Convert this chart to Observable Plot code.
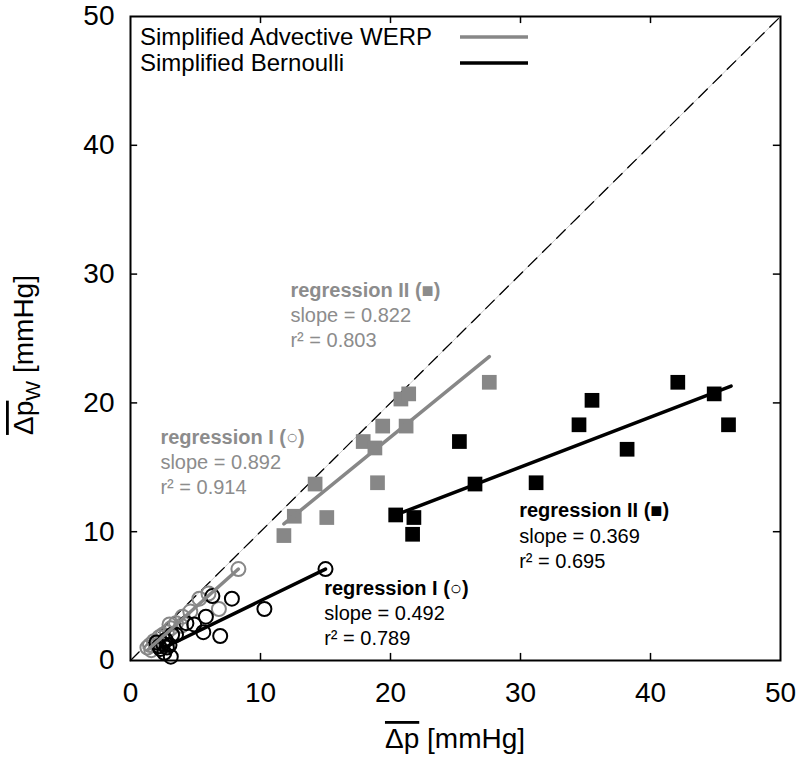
<!DOCTYPE html>
<html><head><meta charset="utf-8">
<script src="https://cdn.jsdelivr.net/npm/d3@7"></script>
<script src="https://cdn.jsdelivr.net/npm/@observablehq/plot@0.6"></script>
<style>
body{margin:0;background:#fff;}
#chart svg{display:block;overflow:visible;}
</style>
</head><body><div id="chart"></div>
<script>
// ---- data ----
const tickValues = [0, 10, 20, 30, 40, 50];
const innerTicks = [10, 20, 30, 40];
const identityLine = [0, 50];

// Simplified Advective WERP (grey), regression I circles
const werpCircleX = [8.3, 6.0, 5.3, 6.8, 4.0, 4.6, 3.1, 3.5, 2.5, 2.2, 1.8, 1.3, 1.6, 2.0, 2.8, 1.5, 3.0, 3.9];
const werpCircleY = [7.1, 5.2, 4.8, 4.0, 3.4, 3.8, 2.5, 2.9, 2.0, 1.8, 1.5, 1.0, 0.8, 1.2, 2.2, 1.2, 2.8, 2.7];
// Simplified Bernoulli (black), regression I circles
const bernCircleX = [15.0, 10.3, 7.8, 6.3, 5.8, 4.9, 6.9, 5.6, 4.3, 3.5, 3.1, 2.8, 2.5, 2.3, 2.7, 3.0, 2.2, 2.6, 3.2, 2.0];
const bernCircleY = [7.1, 4.0, 4.8, 5.0, 3.4, 2.8, 1.9, 2.2, 2.9, 2.0, 0.3, 1.0, 1.3, 0.9, 1.6, 1.2, 1.1, 0.6, 2.0, 1.4];
// regression II squares
const werpSquareX = [11.8, 12.6, 15.1, 14.2, 19.0, 17.9, 18.8, 19.4, 21.2, 20.8, 21.4, 27.6];
const werpSquareY = [9.7, 11.2, 11.1, 13.7, 13.8, 17.0, 16.5, 18.2, 18.2, 20.3, 20.7, 21.6];
const bernSquareX = [20.4, 21.8, 21.7, 25.3, 26.5, 31.2, 34.5, 35.5, 38.2, 42.1, 44.9, 46.0];
const bernSquareY = [11.3, 11.1, 9.8, 17.0, 13.7, 13.8, 18.3, 20.2, 16.4, 21.6, 20.7, 18.3];

// regression line end points
const werpRegIX = [1.3, 8.3],  werpRegIY = [0.8, 7.1];
const bernRegIX = [2.5, 15.0], bernRegIY = [0.95, 7.1];
const werpRegIIX = [11.8, 27.6], werpRegIIY = [10.6, 23.6];
const bernRegIIX = [20.4, 46.2], bernRegIIY = [11.3, 21.3];

const seriesNames = ["Simplified Advective WERP", "Simplified Bernoulli"];

// annotation texts
const annWerpII = ["regression II (■)", "slope = 0.822", "r² = 0.803"];
const annWerpI  = ["regression I (○)", "slope = 0.892", "r² = 0.914"];
const annBernII = ["regression II (■)", "slope = 0.369", "r² = 0.695"];
const annBernI  = ["regression I (○)", "slope = 0.492", "r² = 0.789"];

// ---- build ----
const GREY = "#878787";
const GREY_TEXT = "#8c8c8c";
const FONT = "'Liberation Sans', Arial, sans-serif";
const zip = (xs, ys) => xs.map((x, i) => ({x, y: ys[i]}));

function annMarks(lines, x0, y0, color) {
  const rows = lines.map((t, i) => ({t, i, x: x0, y: y0 - i * 1.95}));
  return [
    Plot.text(rows.filter(d => d.i === 0), {x: "x", y: "y", text: "t", fill: color, fontSize: 20, fontWeight: "bold", textAnchor: "start"}),
    Plot.text(rows.filter(d => d.i > 0), {x: "x", y: "y", text: "t", fill: color, fontSize: 20, textAnchor: "start"})
  ];
}

const chart = Plot.plot({
  width: 800, height: 761,
  marginLeft: 130, marginRight: 20, marginTop: 16, marginBottom: 101,
  style: {fontFamily: FONT, background: "#fff", color: "#000", overflow: "visible"},
  x: {domain: [0, 50]},
  y: {domain: [0, 50]},
  marks: [
    // identity line
    Plot.line(zip(identityLine, identityLine), {x: "x", y: "y", stroke: "#c8c8c8", strokeWidth: 1}),
    Plot.line(zip(identityLine, identityLine), {x: "x", y: "y", stroke: "#000", strokeWidth: 1.3, strokeDasharray: "12,8"}),
    // points
    Plot.dot(zip(werpCircleX, werpCircleY), {x: "x", y: "y", r: 7, stroke: GREY, strokeWidth: 2, fill: "none"}),
    Plot.dot(zip(bernCircleX, bernCircleY), {x: "x", y: "y", r: 7, stroke: "#000", strokeWidth: 2, fill: "none"}),
    Plot.dot(zip(werpSquareX, werpSquareY), {x: "x", y: "y", symbol: "square", r: 8.3, fill: GREY, stroke: "none"}),
    Plot.dot(zip(bernSquareX, bernSquareY), {x: "x", y: "y", symbol: "square", r: 8.3, fill: "#000", stroke: "none"}),
    // regression lines
    Plot.line(zip(werpRegIX, werpRegIY), {x: "x", y: "y", stroke: GREY, strokeWidth: 3.5}),
    Plot.line(zip(bernRegIX, bernRegIY), {x: "x", y: "y", stroke: "#000", strokeWidth: 3.5}),
    Plot.line(zip(werpRegIIX, werpRegIIY), {x: "x", y: "y", stroke: GREY, strokeWidth: 3.5}),
    Plot.line(zip(bernRegIIX, bernRegIIY), {x: "x", y: "y", stroke: "#000", strokeWidth: 3.5}),
    // annotations
    ...annMarks(annWerpII, 12.3, 28.7, GREY_TEXT),
    ...annMarks(annWerpI, 2.3, 17.3, GREY_TEXT),
    ...annMarks(annBernII, 29.9, 11.6, "#000"),
    ...annMarks(annBernI, 14.9, 5.6, "#000"),
    // inward ticks
    Plot.ruleX(innerTicks, {x: d => d, y1: 0, y2: 0.55, stroke: "#000", strokeWidth: 1.5}),
    Plot.ruleX(innerTicks, {x: d => d, y1: 50, y2: 49.45, stroke: "#000", strokeWidth: 1.5}),
    Plot.ruleY(innerTicks, {y: d => d, x1: 0, x2: 0.55, stroke: "#000", strokeWidth: 1.5}),
    Plot.ruleY(innerTicks, {y: d => d, x1: 50, x2: 49.45, stroke: "#000", strokeWidth: 1.5}),
    // axes
    Plot.axisX(tickValues, {tickSize: 0, tickPadding: 22, fontSize: 28, label: null}),
    Plot.axisY(tickValues, {tickSize: 0, tickPadding: 16, fontSize: 28, label: null}),
    Plot.frame({stroke: "#000", strokeWidth: 2})
  ]
});

document.getElementById("chart").appendChild(chart);

// legend and axis titles
const svg = d3.select(chart);
const leg = svg.append("g").attr("font-family", FONT).attr("font-size", 24).attr("text-anchor", "start");
const legColors = [GREY, "#000"];
seriesNames.forEach((name, i) => {
  const cy = 37 + i * 26;
  leg.append("text").attr("x", 140).attr("y", cy).attr("dy", "0.35em").attr("text-anchor", "start").attr("fill", "#000").text(name);
  leg.append("line").attr("x1", 460).attr("x2", 528).attr("y1", cy).attr("y2", cy)
     .attr("stroke", legColors[i]).attr("stroke-width", 3.5);
});

const xt = svg.append("text")
  .attr("x", 455).attr("y", 748).attr("text-anchor", "middle")
  .attr("font-family", FONT).attr("font-size", 28).attr("fill", "#000");
xt.append("tspan").style("text-decoration", "overline").text("Δp");
xt.append("tspan").text(" [mmHg]");

const yt = svg.append("text")
  .attr("transform", "translate(33,355) rotate(-90)").attr("text-anchor", "middle")
  .attr("font-family", FONT).attr("font-size", 28).attr("fill", "#000");
yt.append("tspan").style("text-decoration", "overline").text("Δp");
yt.append("tspan").attr("dy", 7).attr("font-size", 21).text("W");
yt.append("tspan").attr("dy", -7).text(" [mmHg]");
</script>
</body></html>
